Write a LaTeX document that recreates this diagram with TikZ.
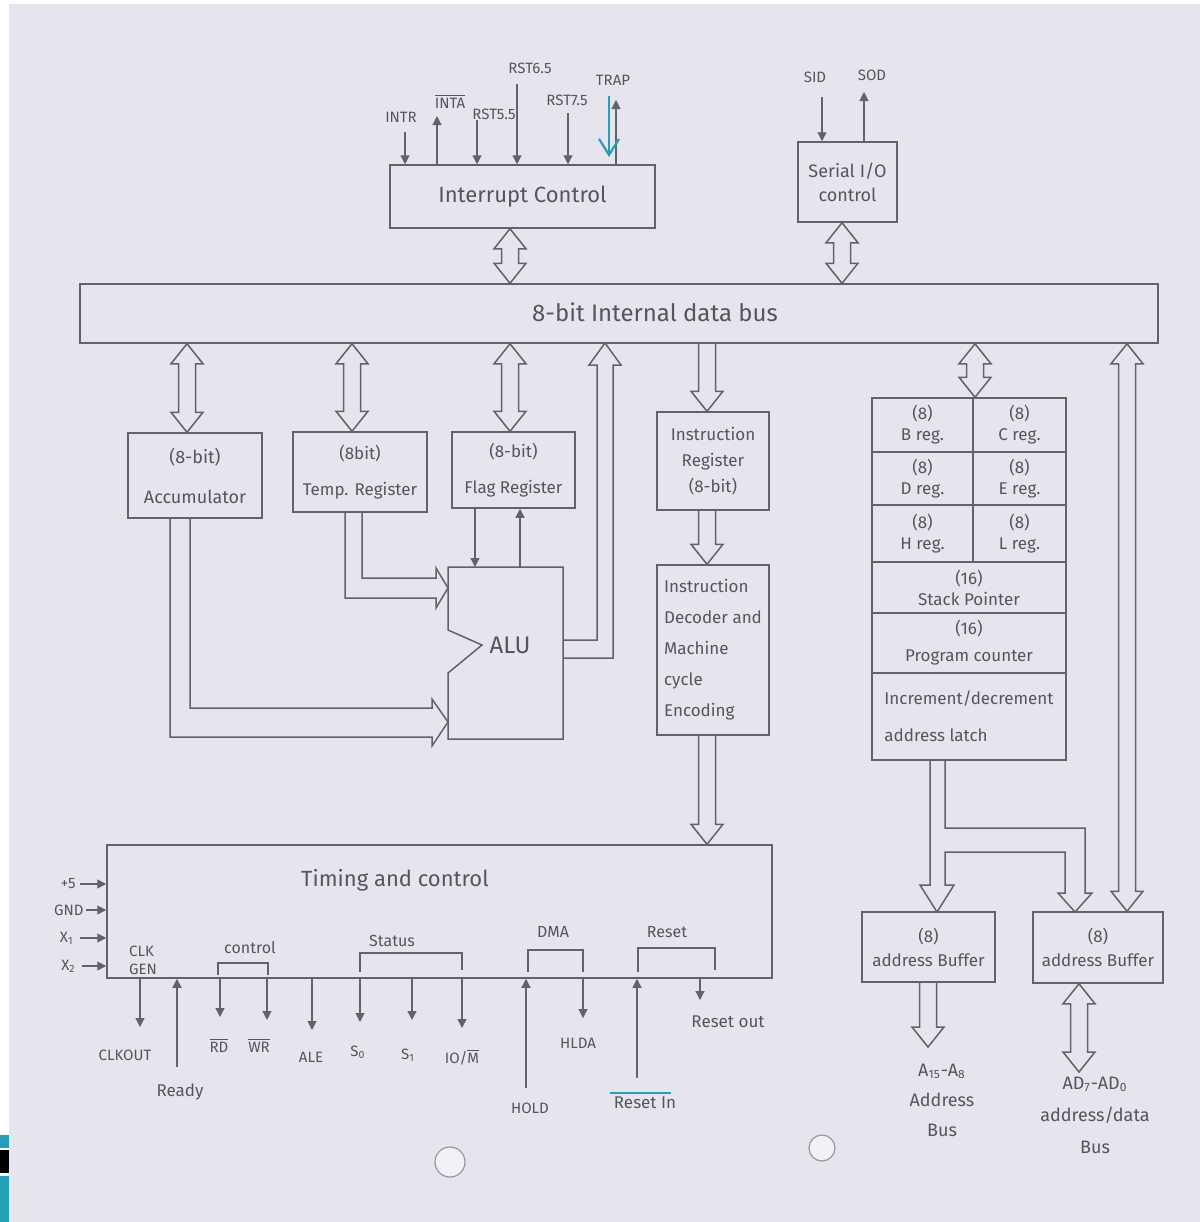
\documentclass[tikz,border=0pt]{standalone}
\usepackage{fontspec}
\setmainfont{Fira Sans}
\usetikzlibrary{arrows.meta,calc}
\definecolor{paper}{RGB}{229,229,238}
\definecolor{pencil}{RGB}{98,98,106}
\definecolor{ink}{RGB}{85,85,95}
\definecolor{anno}{RGB}{38,160,185}
\definecolor{holec}{RGB}{150,150,158}
\begin{document}
\begin{tikzpicture}[x=0.5pt,y=-0.5pt,
  every node/.style={text=ink},
  pen/.style={draw=pencil, line width=0.75pt},
  box/.style={pen, rectangle, inner sep=0pt, align=center, font=\fontsize{9}{12}\selectfont},
  reg/.style={box, font=\fontsize{8.5}{10.5}\selectfont},
  txt/.style={inner sep=0pt, align=center, font=\fontsize{9}{12}\selectfont},
  big/.style={font=\fontsize{11}{14}\selectfont},
  lab/.style={inner sep=0pt, font=\fontsize{7.5}{9}\selectfont},
  sig/.style={draw=pencil, line width=0.6pt, -{Triangle[length=4.5pt,width=4.5pt]}},
  brk/.style={draw=pencil, line width=0.6pt},
  dbl/.style={pen, to path={let \p1=(\tikztostart), \p2=(\tikztotarget) in
     (\x1,\y1) -- (\x1+8pt,\y1-10pt) -- (\x1+4.25pt,\y1-10pt) -- (\x1+4.25pt,\y2+10pt)
     -- (\x1+8pt,\y2+10pt) -- (\x1,\y2) -- (\x1-8pt,\y2+10pt) -- (\x1-4.25pt,\y2+10pt)
     -- (\x1-4.25pt,\y1-10pt) -- (\x1-8pt,\y1-10pt) -- cycle}},
  dn/.style={pen, to path={let \p1=(\tikztostart), \p2=(\tikztotarget) in
     (\x1-4.25pt,\y1) -- (\x1-4.25pt,\y2+10pt) -- (\x1-8pt,\y2+10pt) -- (\x1,\y2)
     -- (\x1+8pt,\y2+10pt) -- (\x1+4.25pt,\y2+10pt) -- (\x1+4.25pt,\y1)}},
]
% paper
\fill[paper] (0,0) rectangle (1200,1222);
\fill[white] (0,0) rectangle (9,1222);
\fill[white] (0,0) rectangle (1200,4);
\fill[anno] (0,1135) rectangle (9,1148);
\fill[black] (0,1150) rectangle (9,1173);
\fill[anno] (0,1176) rectangle (9,1222);
\useasboundingbox (0,0) rectangle (1200,1222);
\draw[holec, fill=paper!55!white, line width=0.6pt] (450,1162) circle[radius=7.5pt];
\draw[holec, fill=paper!55!white, line width=0.6pt] (822,1148) circle[radius=6.5pt];

% ---------- boxes ----------
\node[box, big, minimum width=132.5pt, minimum height=31.5pt] (intc) at (522.5,196.5) {Interrupt Control};
\node[box, minimum width=49.5pt, minimum height=40pt] (sio) at (847.5,182) {Serial I/O\\control};
\node[box, minimum width=539pt, minimum height=29.5pt] (bus) at (619,313.5) {};
\node[txt, font=\fontsize{12}{14}\selectfont] (bustxt) at (655,312) {8-bit Internal data bus};

\node[box, minimum width=67pt, minimum height=42.5pt] (acc) at (195,475.5) {(8-bit)\\[8pt]Accumulator};
\node[box, font=\fontsize{8.5}{12}\selectfont, minimum width=67pt, minimum height=40pt] (tmp) at (360,472) {(8bit)\\[6pt]Temp. Register};
\node[box, font=\fontsize{8.5}{12}\selectfont, minimum width=61.5pt, minimum height=38pt] (flag) at (513.5,470) {(8-bit)\\[6pt]Flag Register};

\node[box, font=\fontsize{8.5}{13}\selectfont, minimum width=56pt, minimum height=49pt] (ir) at (713,461) {Instruction\\Register\\(8-bit)};
\node[box, align=left, font=\fontsize{8.5}{15.5}\selectfont, minimum width=56pt, minimum height=85pt] (dec) at (713,650) {Instruction\\Decoder and\\Machine\\cycle\\Encoding};

% ALU
\draw[pen] (448,567) -- (563,567) -- (563,739) -- (448,739) -- (448,673) -- (482,645) -- (448,630) -- cycle;
\node[txt, font=\fontsize{12}{14}\selectfont] (alu) at (510,645) {ALU};

% register array
\node[reg, minimum width=50.5pt, minimum height=27pt] (rB) at (922.5,425) {(8)\\B reg.};
\node[reg, minimum width=46.5pt, minimum height=27pt] (rC) at (1019.5,425) {(8)\\C reg.};
\node[reg, minimum width=50.5pt, minimum height=26.5pt] (rD) at (922.5,478.5) {(8)\\D reg.};
\node[reg, minimum width=46.5pt, minimum height=26.5pt] (rE) at (1019.5,478.5) {(8)\\E reg.};
\node[reg, minimum width=50.5pt, minimum height=28.5pt] (rH) at (922.5,533.5) {(8)\\H reg.};
\node[reg, minimum width=46.5pt, minimum height=28.5pt] (rL) at (1019.5,533.5) {(8)\\L reg.};
\node[reg, minimum width=97pt, minimum height=25.5pt] (sp) at (969,587.5) {(16)\\Stack Pointer};
\node[reg, minimum width=97pt, minimum height=30pt] (pc) at (969,643) {(16)\\[3pt]Program counter};
\node[reg, align=left, minimum width=97pt, minimum height=43.5pt] (idl) at (969,716.5) {Increment/decrement\\[8pt]address latch};

% timing and control
\node[box, minimum width=332.5pt, minimum height=66.5pt] (tc) at (439.5,911.5) {};
\node[txt, big] (tctxt) at (395,880) {Timing and control};

% address buffers
\node[box, font=\fontsize{8.5}{12}\selectfont, minimum width=66.5pt, minimum height=35pt] (ab1) at (928.5,947) {(8)\\address Buffer};
\node[box, font=\fontsize{8.5}{12}\selectfont, minimum width=65pt, minimum height=35.5pt] (ab2) at (1098,947.5) {(8)\\address Buffer};
\node[txt, font=\fontsize{9}{15}\selectfont] (labus) at (942,1100) {A\textsubscript{15}-A\textsubscript{8}\\Address\\Bus};
\node[txt, font=\fontsize{9}{16}\selectfont] (ladbus) at (1095,1115) {AD\textsubscript{7}-AD\textsubscript{0}\\address/data\\Bus};

% ---------- wide bus arrows ----------
\coordinate (xi) at (510,0);
\coordinate (xs) at (842,0);
\coordinate (xa) at (187,0);
\coordinate (xt) at (352,0);
\coordinate (xf) at (510,0);
\coordinate (xir) at (707,0);
\coordinate (xr) at (975,0);
\coordinate (xb) at (1127,0);
\coordinate (abus1) at (928,1047);
\coordinate (abus2) at (1079,1072);
\draw[dbl] (xi |- intc.south) to (xi |- bus.north);
\draw[dbl] (xs |- sio.south) to (xs |- bus.north);
\draw[dbl] (xa |- bus.south) to (xa |- acc.north);
\draw[dbl] (xt |- bus.south) to (xt |- tmp.north);
\draw[dbl] (xf |- bus.south) to (xf |- flag.north);
\draw[dn] (xir |- bus.south) to (xir |- ir.north);
\draw[dn] (xir |- ir.south) to (xir |- dec.north);
\draw[dn] (xir |- dec.south) to (xir |- tc.north);
\draw[dbl] (xr |- bus.south) to (xr |- rB.north);
\draw[dbl] (xb |- bus.south) to (xb |- ab2.north);
\draw[dn] (abus1 |- ab1.south) to (abus1);
\draw[dbl] (abus2 |- ab2.south) to (abus2);

% ALU output to bus
\draw[pen] (563,640) -- (597,640) -- (597,365) -- (589,365) -- (605,343) -- (621,365) -- (613,365) -- (613,658) -- (563,658);
% accumulator to ALU
\draw[pen] (170,518) -- (170,737) -- (432,737) -- (432,746) -- (448,722) -- (432,699) -- (432,708) -- (190,708) -- (190,518);
% temp register to ALU
\draw[pen] (345,512) -- (345,598) -- (436,598) -- (436,608) -- (448,588) -- (436,568) -- (436,578) -- (362,578) -- (362,512);
% flag register <-> ALU
\coordinate (fa1) at (475,567);
\coordinate (fa2) at (520,567);
\draw[sig] (fa1 |- flag.south) -- (fa1);
\draw[sig] (fa2) -- (fa2 |- flag.south);
% address latch to address buffers
\draw[pen] (930,760) -- (930,885) -- (920,885) -- (937,912) -- (954,885) -- (945,885) -- (945,852) -- (1065,852) -- (1065,893) -- (1058,893) -- (1075,912) -- (1092,893) -- (1085,893) -- (1085,828) -- (945,828) -- (945,760);

% ---------- interrupt signals ----------
\coordinate (pintr) at (405,132);
\coordinate (pinta) at (437,116);
\coordinate (prst5) at (477,120);
\coordinate (prst6) at (517,84);
\coordinate (prst7) at (568,113);
\coordinate (ptrap) at (616,100);
\draw[sig] (pintr) -- (pintr |- intc.north);
\draw[sig] (pinta |- intc.north) -- (pinta);
\draw[sig] (prst5) -- (prst5 |- intc.north);
\draw[sig] (prst6) -- (prst6 |- intc.north);
\draw[sig] (prst7) -- (prst7 |- intc.north);
\draw[sig] (ptrap |- intc.north) -- (ptrap);
\draw[anno, line width=1.1pt, -{Straight Barb[length=8pt,width=10pt]}] (609,96) -- (609,157);
\node[lab] (lintr) at (401,117) {INTR};
\node[lab] (linta) at (450,101) {$\overline{\hbox{INTA}}$};
\node[lab] (lrst5) at (494,114) {RST5.5};
\node[lab] (lrst6) at (530,68) {RST6.5};
\node[lab] (lrst7) at (567,100) {RST7.5};
\node[lab] (ltrap) at (613,80) {TRAP};

% serial signals
\coordinate (psid) at (822,97);
\coordinate (psod) at (864,92);
\draw[sig] (psid) -- (psid |- sio.north);
\draw[sig] (psod |- sio.north) -- (psod);
\node[lab] (lsid) at (815,77) {SID};
\node[lab] (lsod) at (872,75) {SOD};

% ---------- timing and control inputs ----------
\node[lab, anchor=east] (l5) at (76,884) {+5};
\node[lab, anchor=east] (lgnd) at (84,910) {GND};
\node[lab, anchor=east] (lx1) at (74,938) {X\textsubscript{1}};
\node[lab, anchor=east] (lx2) at (76,966) {X\textsubscript{2}};
\draw[sig] ([xshift=2pt]l5.east) -- (l5.east -| tc.west);
\draw[sig] ([xshift=1pt]lgnd.east) -- (lgnd.east -| tc.west);
\draw[sig] ([xshift=3pt]lx1.east) -- (lx1.east -| tc.west);
\draw[sig] ([xshift=3pt]lx2.east) -- (lx2.east -| tc.west);
\node[lab, align=left] (lclk) at (143,960) {CLK\\GEN};

% brackets
\draw[brk] (218,975) -- (218,963) -- (268,963) -- (268,975);
\node[lab, font=\fontsize{8}{9}\selectfont] (lctl) at (250,948) {control};
\draw[brk] (360,972) -- (360,953) -- (462,953) -- (462,970);
\node[lab, font=\fontsize{8}{9}\selectfont] (lstat) at (392,941) {Status};
\draw[brk] (528,972) -- (528,950) -- (583,950) -- (583,972);
\node[lab, font=\fontsize{8}{9}\selectfont] (ldma) at (553,932) {DMA};
\draw[brk] (638,972) -- (638,948) -- (715,948) -- (715,970);
\node[lab, font=\fontsize{8}{9}\selectfont] (lreset) at (667,932) {Reset};

% bottom outputs
\coordinate (pclk) at (140,1027);
\coordinate (prd) at (220,1017);
\coordinate (pwr) at (267,1020);
\coordinate (pale) at (312,1030);
\coordinate (ps0) at (360,1022);
\coordinate (ps1) at (412,1020);
\coordinate (piom) at (462,1028);
\coordinate (phlda) at (583,1018);
\coordinate (prout) at (700,1000);
\foreach \p in {pclk,prd,pwr,pale,ps0,ps1,piom,phlda,prout}
  \draw[sig] (\p |- tc.south) -- (\p);
% bottom inputs
\coordinate (prdy) at (177,1067);
\coordinate (phold) at (526,1088);
\coordinate (prin) at (637,1078);
\foreach \p in {prdy,phold,prin}
  \draw[sig] (\p) -- (\p |- tc.south);

\node[lab] (lclkout) at (125,1055) {CLKOUT};
\node[lab, font=\fontsize{8.5}{10}\selectfont] (lready) at (180,1092) {Ready};
\node[lab] (lrd) at (219,1045) {$\overline{\hbox{RD}}$};
\node[lab] (lwr) at (259,1045) {$\overline{\hbox{WR}}$};
\node[lab] (lale) at (311,1057) {ALE};
\node[lab] (ls0) at (358,1052) {S\textsubscript{0}};
\node[lab] (ls1) at (408,1055) {S\textsubscript{1}};
\node[lab] (liom) at (462,1057) {IO/$\overline{\hbox{M}}$};
\node[lab] (lhlda) at (578,1043) {HLDA};
\node[lab, font=\fontsize{8.5}{10}\selectfont] (lrout) at (728,1022) {Reset out};
\node[lab] (lhold) at (530,1108) {HOLD};
\node[lab, font=\fontsize{8.5}{10}\selectfont] (lrin) at (645,1103) {Reset In};
\draw[anno, line width=1.1pt] (610,1093) -- (671,1093);
\end{tikzpicture}
\end{document}
